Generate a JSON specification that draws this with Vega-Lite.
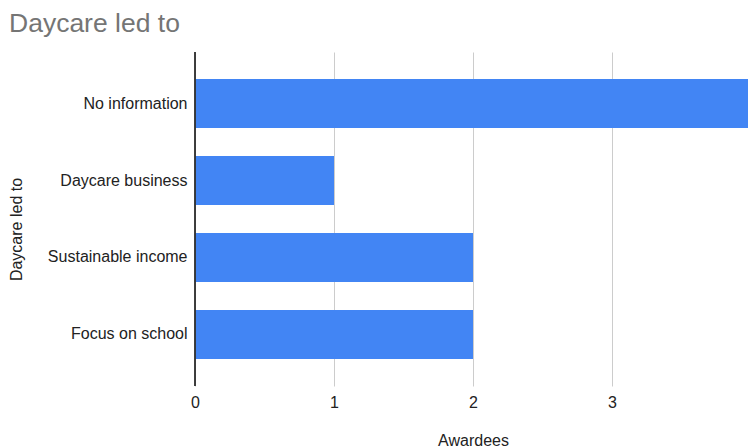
{
  "$schema": "https://vega.github.io/schema/vega-lite/v6.json",
  "autosize": "none",
  "width": 556,
  "height": 334,
  "padding": {"left": 195, "top": 52, "right": 0, "bottom": 62},
  "background": "white",
  "title": {
    "text": "Daycare led to",
    "anchor": "start",
    "frame": "group",
    "font": "Liberation Sans",
    "fontSize": 26.5,
    "fontWeight": "normal",
    "color": "#757575",
    "dx": -186,
    "offset": 14
  },
  "data": {
    "values": [
      {"cat": "No information", "v": 4},
      {"cat": "Daycare business", "v": 1},
      {"cat": "Sustainable income", "v": 2},
      {"cat": "Focus on school", "v": 2}
    ]
  },
  "config": {
    "view": {"stroke": null},
    "axis": {"labelFont": "Liberation Sans", "titleFont": "Liberation Sans"}
  },
  "encoding": {
    "y": {
      "field": "cat",
      "type": "nominal",
      "sort": null,
      "scale": {"paddingInner": 0.364, "paddingOuter": 0.351},
      "axis": {
        "title": "Daycare led to",
        "titleFontSize": 16,
        "titleFontWeight": "normal",
        "titleColor": "#222222",
        "titleY": 177,
        "titlePadding": 23,
        "labelFontSize": 16,
        "labelColor": "#222222",
        "labelPadding": 8,
        "ticks": false,
        "domain": false,
        "grid": false
      }
    },
    "x": {
      "field": "v",
      "type": "quantitative",
      "scale": {"domain": [0, 4], "nice": false},
      "axis": {
        "title": "Awardees",
        "titleFontSize": 16,
        "titleFontWeight": "normal",
        "titleColor": "#222222",
        "titlePadding": 22,
        "labelFontSize": 16,
        "labelColor": "#222222",
        "labelPadding": 8,
        "values": [0, 1, 2, 3],
        "format": "d",
        "ticks": false,
        "domain": false,
        "grid": true,
        "gridColor": "#cccccc",
        "labelFlush": false
      }
    }
  },
  "layer": [
    {"mark": {"type": "bar", "color": "#4285f4", "clip": true}},
    {
      "mark": {"type": "rule", "color": "#333333"},
      "encoding": {"x": {"datum": 0}, "y": null}
    }
  ]
}
